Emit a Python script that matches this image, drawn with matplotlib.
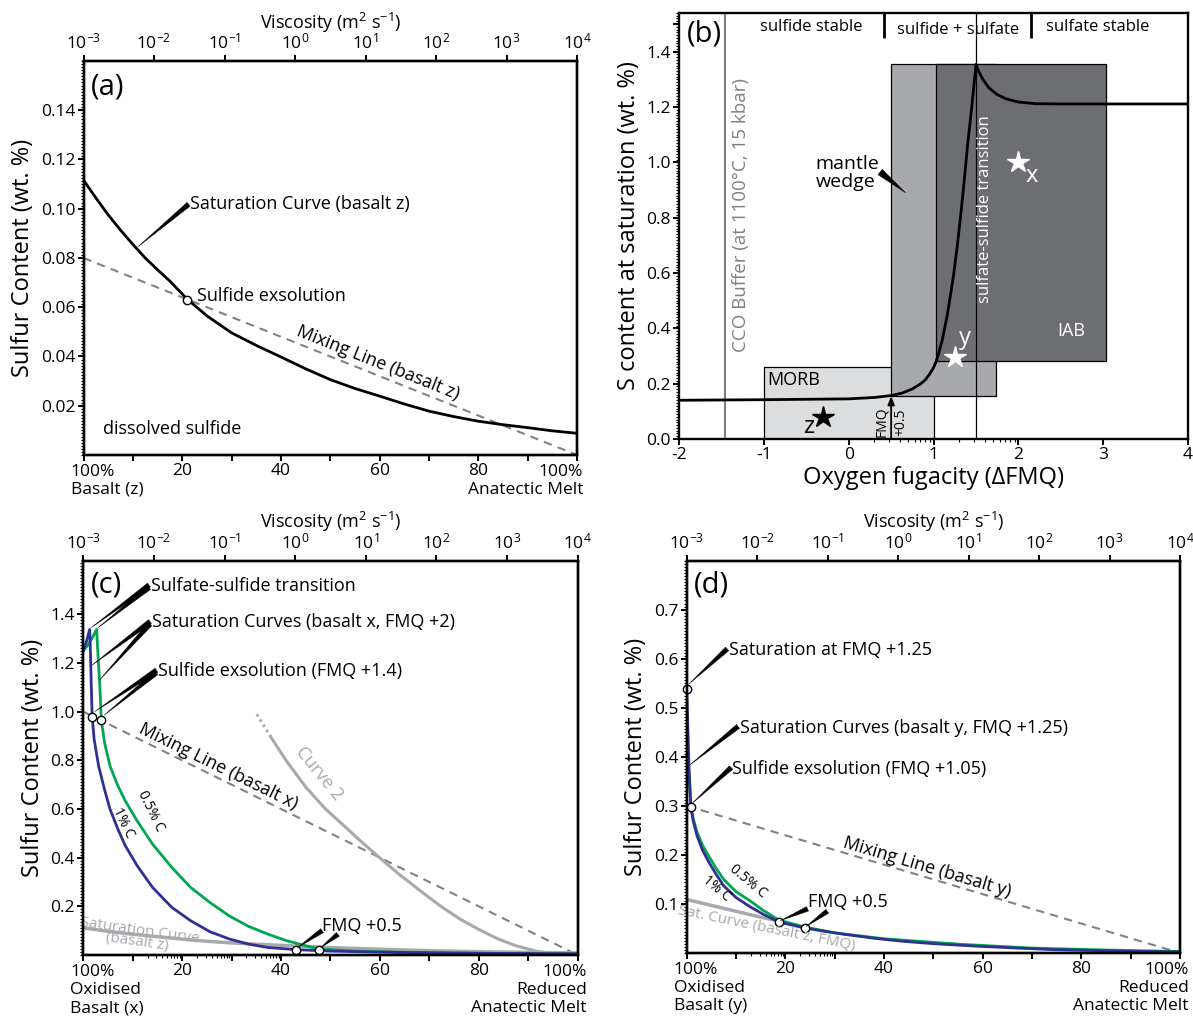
import numpy as np
import matplotlib
matplotlib.use('Agg')
import matplotlib.pyplot as plt
from matplotlib.ticker import MultipleLocator, FixedLocator, NullLocator

plt.rcParams['font.family'] = ['Open Sans', 'DejaVu Sans']
plt.rcParams['mathtext.default'] = 'regular'

# ---- shared axes data
mix_ticks = [0, 10, 20, 30, 40, 50, 60, 70, 80, 90, 100]
mix_labels = ['', '', '20', '', '40', '', '60', '', '80', '', '']
visc_ticks = [1e-3, 1e-2, 1e-1, 1e0, 1e1, 1e2, 1e3, 1e4]
visc_labels = ['$10^{-3}$', '$10^{-2}$', '$10^{-1}$', '$10^{0}$', '$10^{1}$', '$10^{2}$', '$10^{3}$', '$10^{4}$']

# ---- panel (a)
mix_a = [0, 2.5, 5, 7.5, 10, 12.5, 15, 17.5, 21, 25, 30, 35, 40, 45, 50, 55, 60, 65, 70, 75, 80,
         85, 90, 95, 100]
sat_a = [0.1116, 0.1044, 0.0975, 0.0913, 0.0855, 0.0800, 0.0752, 0.0706, 0.0633, 0.0565, 0.0496,
         0.0445, 0.0398, 0.0350, 0.0306, 0.0270, 0.0239, 0.0207, 0.0178, 0.0156, 0.0137, 0.0123,
         0.0111, 0.0098, 0.0088]
mixline_a = [0.08, 0.0]
exsol_a = (21, 0.063)

# ---- panel (b)
fo2 = [-2, -1, 0, 0.3, 0.5, 0.63, 0.75, 0.85, 0.9, 0.95, 1.0, 1.03, 1.06, 1.1, 1.16, 1.23, 1.28,
       1.32, 1.36, 1.4, 1.45, 1.5, 1.53, 1.58, 1.65, 1.75, 1.85, 2.0, 2.2, 2.5, 4]
s_sat = [0.14, 0.142, 0.145, 0.15, 0.157, 0.166, 0.181, 0.2, 0.213, 0.233, 0.258, 0.28, 0.31,
         0.355, 0.445, 0.58, 0.7, 0.81, 0.93, 1.06, 1.2, 1.354, 1.33, 1.30, 1.27, 1.245, 1.23,
         1.218, 1.212, 1.211, 1.211]
# boxes: (x0, x1, y0, y1)
morb_box = (-1.0, 1.0, 0.0, 0.26)
wedge_box = (0.5, 1.74, 0.155, 1.355)
iab_box = (1.03, 3.03, 0.282, 1.355)
cco_fo2 = -1.46
transition_fo2 = 1.5
star_pts = {'z': (-0.3, 0.079), 'y': (1.25, 0.296), 'x': (2.0, 1.0)}

# ---- panel (c)
blue_c_x = [0, 0.6, 1.3, 1.45, 1.6, 1.8, 2.2, 3.1, 4.3, 5.4, 7.0, 8.5, 10.9, 14.0, 17.9, 21.7,
            25.6, 29.5, 33.4, 37.3, 43, 50, 60, 70, 80, 90, 100]
blue_c_y = [1.25, 1.285, 1.338, 1.25, 1.12, 0.98, 0.886, 0.777, 0.68, 0.60, 0.517, 0.449, 0.367,
            0.278, 0.196, 0.141, 0.096, 0.066, 0.045, 0.031, 0.022, 0.016, 0.012, 0.009, 0.007,
            0.006, 0.005]
green_c_x = [0, 1.0, 2.0, 2.7, 2.9, 3.1, 3.3, 3.65, 4.3, 5.4, 7.0, 8.5, 10.9, 14.0, 17.9, 21.7,
             25.6, 29.5, 33.4, 37.3, 41.1, 45, 47.6, 55, 65, 80, 100]
green_c_y = [1.25, 1.275, 1.31, 1.338, 1.26, 1.19, 1.126, 0.966, 0.873, 0.777, 0.695, 0.633,
             0.551, 0.456, 0.36, 0.278, 0.216, 0.161, 0.118, 0.086, 0.059, 0.038, 0.025, 0.016,
             0.011, 0.007, 0.005]
mixline_c = [1.0, 0.0]
curve2_dot_x = [35.1, 37.9]
curve2_dot_y = [0.989, 0.897]
curve2_x = [37.9, 41, 45, 49, 52.8, 56, 59.8, 64, 68.3, 72, 76, 80, 83.9, 87.5, 91.6, 95.5]
curve2_y = [0.897, 0.80, 0.69, 0.60, 0.53, 0.47, 0.402, 0.33, 0.262, 0.205, 0.15, 0.105, 0.066,
            0.038, 0.016, 0.003]
exsol_c = [(1.8, 0.98), (3.65, 0.966), (43, 0.022), (47.6, 0.022)]

# ---- panel (d)
blue_d_x = [0, 0.2, 0.46, 0.85, 1.3, 2.1, 3.2, 4.5, 6, 7.5, 10, 12.9, 15.5, 18.7, 23.9, 28, 32, 38,
            43.6, 50, 59, 67, 74.3, 87, 100]
blue_d_y = [0.539, 0.47, 0.383, 0.297, 0.27, 0.239, 0.21, 0.185, 0.16, 0.137, 0.113, 0.094, 0.079,
            0.063, 0.051, 0.044, 0.038, 0.030, 0.024, 0.019, 0.0137, 0.010, 0.0068, 0.004, 0.002]
green_d_x = [0.5, 0.85, 1.3, 2.1, 3.2, 4.5, 6, 7.5, 10, 12.9, 15.5, 18.7, 23.9, 30, 40, 55, 70, 85, 100]
green_d_y = [0.36, 0.30, 0.275, 0.246, 0.22, 0.197, 0.172, 0.150, 0.125, 0.106, 0.087, 0.067, 0.053,
             0.041, 0.029, 0.018, 0.010, 0.006, 0.003]
satz_d_x = [0, 5, 10, 15, 18.7]
satz_d_y = [0.109, 0.097, 0.085, 0.073, 0.065]
mixline_d = [0.3, 0.0]
exsol_d = [(0, 0.539), (0.85, 0.297), (18.7, 0.063), (23.9, 0.051)]

BLUE = '#2e3192'
GREEN = '#00a651'
LGREY = '#a7a9ac'
DGREY = '#808285'
FS = 13

fig = plt.figure(figsize=(11.93, 10.19), dpi=100)


def style(ax):
    for s in ax.spines.values():
        s.set_linewidth(1.7)
    ax.tick_params(which='major', direction='out', length=4, width=1.4, labelsize=12.5, pad=2)
    ax.tick_params(which='minor', direction='out', length=2.5, width=0.8)


def wedge(ax, head, tail, w=0.35):
    ax.annotate('', xy=head, xytext=tail,
                arrowprops=dict(arrowstyle='wedge,tail_width=%g,shrink_factor=0.5' % w,
                                fc='k', ec='k', lw=0.3, shrinkA=0, shrinkB=0))


def angle(ax, p1, p2):
    a = ax.transData.transform(p1)
    b = ax.transData.transform(p2)
    return np.degrees(np.arctan2(b[1] - a[1], b[0] - a[0]))


def end_labels(ax, lines, x, dx, ha):
    for i, line in enumerate(lines):
        ax.annotate(line, xy=(x, 0), xycoords=('data', 'axes fraction'), xytext=(dx, -9 - 18 * i),
                    textcoords='offset pixels', ha=ha, va='top', fontsize=12.5)


def mix_axes(ax, ymax, yminor, yticks, ylabels, left_lab, right_lab, log_starts, rx):
    ax.set_xlim(0, 100)
    ax.set_ylim(0, ymax)
    ax.xaxis.set_major_locator(FixedLocator(mix_ticks))
    ax.set_xticklabels(mix_labels)
    minors = [k + 10 * np.log10(m) for k in log_starts for m in range(2, 10)]
    ax.xaxis.set_minor_locator(FixedLocator(minors))
    ax.set_yticks(yticks)
    ax.set_yticklabels(ylabels)
    ax.yaxis.set_minor_locator(MultipleLocator(yminor))
    style(ax)
    ax.set_ylabel('Sulfur Content (wt. %)', fontsize=17, labelpad=4)
    end_labels(ax, left_lab, 0, -13, 'left')
    end_labels(ax, right_lab, 100, rx, 'right')
    top = ax.twiny()
    top.set_xscale('log')
    top.set_xlim(1e-3, 1e4)
    top.set_xticks(visc_ticks)
    top.set_xticklabels(visc_labels)
    top.xaxis.set_minor_locator(NullLocator())
    style(top)
    top.set_xlabel('Viscosity (m$^2$ s$^{-1}$)', fontsize=13, labelpad=3)
    return top


# ================= (a)
ax = fig.add_axes([0.0700, 0.5535, 0.4137, 0.3867])
mix_axes(ax, 0.16, 0.00125, [0.02, 0.04, 0.06, 0.08, 0.10, 0.12, 0.14],
         ['0.02', '0.04', '0.06', '0.08', '0.10', '0.12', '0.14'],
         ['100%', 'Basalt (z)'], ['100%', 'Anatectic Melt'], [], 6)
ax.plot([0, 100], mixline_a, color=DGREY, lw=1.5, ls=(0, (4, 3)))
ax.plot(mix_a, sat_a, color='k', lw=2)
ax.plot(*exsol_a, 'o', ms=6, mfc='white', mec='k', mew=1)
ax.text(0.015, 0.97, '(a)', transform=ax.transAxes, fontsize=21, va='top')
ax.text(21.5, 0.102, 'Saturation Curve (basalt z)', fontsize=FS, va='center')
wedge(ax, (11, 0.0845), (21.3, 0.1018))
ax.text(23, 0.0645, 'Sulfide exsolution', fontsize=FS, va='center')
rot = angle(ax, (0, mixline_a[0]), (100, mixline_a[1]))
ax.text(59.6, 0.0375, 'Mixing Line (basalt z)', fontsize=FS, rotation=rot, ha='center', va='center',
        rotation_mode='anchor')
ax.text(4, 0.0105, 'dissolved sulfide', fontsize=FS, va='center')

# ================= (b)
bx = fig.add_axes([0.5692, 0.5692, 0.4267, 0.4181])
bx.set_xlim(-2, 4)
bx.set_ylim(0, 1.54)
bx.set_xticks([-2, -1, 0, 1, 2, 3, 4])
bx.set_xticklabels(['-2', '-1', '0', '1', '2', '3', '4'])
bx.xaxis.set_minor_locator(FixedLocator([k + np.log10(m) for k in (0, 1) for m in range(2, 10)]))
bx.set_yticks([0, 0.2, 0.4, 0.6, 0.8, 1.0, 1.2, 1.4, 1.5])
bx.set_yticklabels(['0.0', '0.2', '0.4', '0.6', '0.8', '1.0', '1.2', '1.4', ''])
bx.yaxis.set_minor_locator(MultipleLocator(0.01))
style(bx)
bx.set_ylabel('S content at saturation (wt. %)', fontsize=17, labelpad=4)
bx.set_xlabel('Oxygen fugacity (\u0394FMQ)', fontsize=17, labelpad=2)
for (x0, x1, y0, y1), col in [(morb_box, '#dcddde'), (wedge_box, '#a7a9ac'), (iab_box, '#6d6e71')]:
    bx.fill_between([x0, x1], y0, y1, facecolor=col, edgecolor='k', lw=0.9)
bx.axvline(cco_fo2, color='#808080', lw=1.5)
bx.axvline(transition_fo2, color='k', lw=0.9)
bx.vlines([0.414, 2.151], 1.451, 1.54, color='k', lw=2)
bx.plot(fo2, s_sat, color='k', lw=2)
bx.annotate('', xy=(0.5, 0.155), xytext=(0.5, 0.0),
            arrowprops=dict(arrowstyle='-|>,head_length=0.5,head_width=0.2', color='k', lw=1.3,
                            shrinkA=0, shrinkB=0))
bx.text(0.5, 0.062, 'FMQ\n+0.5', rotation=90, fontsize=10, ha='center', va='center', linespacing=1.3)
bx.plot(*star_pts['z'], marker='*', ms=16, color='k', ls='none')
bx.plot(*star_pts['y'], marker='*', ms=16, color='white', ls='none')
bx.plot(*star_pts['x'], marker='*', ms=16, color='white', ls='none')
bx.text(-0.47, 0.045, 'z', fontsize=17, ha='center', va='center')
bx.text(1.37, 0.365, 'y', fontsize=17, ha='center', va='center', color='white')
bx.text(2.16, 0.95, 'x', fontsize=17, ha='center', va='center', color='white')
bx.text(2.62, 0.39, 'IAB', fontsize=13, ha='center', va='center', color='white')
bx.text(-0.96, 0.215, 'MORB', fontsize=13, ha='left', va='center')
bx.text(-0.39, 0.96, 'mantle\nwedge', fontsize=14, ha='left', va='center', linespacing=1.0)
wedge(bx, (0.67, 0.89), (0.37, 0.965), w=0.5)
bx.text(-1.27, 0.81, 'CCO Buffer (at 1100\u00b0C, 15 kbar)', rotation=90, fontsize=13.5,
        color='#808080', ha='center', va='center')
bx.text(1.61, 0.83, 'sulfate-sulfide transition', rotation=90, fontsize=12, color='white',
        ha='center', va='center')
bx.text(-0.44, 1.49, 'sulfide stable', fontsize=12, ha='center', va='center')
bx.text(1.29, 1.48, 'sulfide + sulfate', fontsize=12, ha='center', va='center')
bx.text(2.94, 1.49, 'sulfate stable', fontsize=12, ha='center', va='center')
bx.text(0.015, 0.985, '(b)', transform=bx.transAxes, fontsize=21, va='top')

# ================= (c)
cx = fig.add_axes([0.0698, 0.0628, 0.4144, 0.3869])
mix_axes(cx, 1.62, 0.0125, [0.2, 0.4, 0.6, 0.8, 1.0, 1.2, 1.4],
         ['0.2', '0.4', '0.6', '0.8', '1.0', '1.2', '1.4'],
         ['100%', 'Oxidised', 'Basalt (x)'], ['100%', 'Reduced', 'Anatectic Melt'], [10, 20, 30], 9)
cx.plot([0, 100], mixline_c, color=DGREY, lw=1.5, ls=(0, (4, 3)))
cx.plot(curve2_dot_x, curve2_dot_y, color=LGREY, lw=2.2, ls=(0, (0.8, 1.2)))
cx.plot(curve2_x, curve2_y, color=LGREY, lw=2.2)
cx.plot(mix_a, sat_a, color=LGREY, lw=2.5)
cx.plot(green_c_x, green_c_y, color=GREEN, lw=2)
cx.plot(blue_c_x, blue_c_y, color=BLUE, lw=2)
for p in exsol_c:
    cx.plot(*p, 'o', ms=6, mfc='white', mec='k', mew=1)
cx.text(0.015, 0.975, '(c)', transform=cx.transAxes, fontsize=21, va='top')
cx.text(13.8, 1.515, 'Sulfate-sulfide transition', fontsize=FS, va='center')
wedge(cx, (1.6, 1.345), (13.3, 1.52))
wedge(cx, (3.0, 1.345), (13.3, 1.51))
cx.text(14, 1.37, 'Saturation Curves (basalt x, FMQ +2)', fontsize=FS, va='center')
wedge(cx, (1.7, 1.19), (13.5, 1.37))
wedge(cx, (3.3, 1.13), (13.5, 1.36))
cx.text(15.2, 1.165, 'Sulfide exsolution (FMQ +1.4)', fontsize=FS, va='center')
wedge(cx, (2.3, 1.0), (14.8, 1.17))
wedge(cx, (4.2, 0.985), (14.8, 1.16))
rot = angle(cx, (0, mixline_c[0]), (100, mixline_c[1]))
cx.text(27.3, 0.775, 'Mixing Line (basalt x)', fontsize=FS, rotation=rot, ha='center', va='center',
        rotation_mode='anchor')
rot2 = angle(cx, (curve2_x[0], curve2_y[0]), (curve2_x[4], curve2_y[4]))
cx.text(47.8, 0.745, 'Curve 2', fontsize=FS, rotation=rot2, ha='center', va='center', color=LGREY,
        rotation_mode='anchor')
cx.text(13.6, 0.59, '0.5% C', fontsize=10, rotation=-64, ha='center', va='center',
        rotation_mode='anchor')
cx.text(8.0, 0.545, '1% C', fontsize=10, rotation=-64, ha='center', va='center',
        rotation_mode='anchor')
cx.text(11.4, 0.098, 'Saturation Curve', fontsize=11, rotation=-8, ha='center', va='center',
        color=LGREY, rotation_mode='anchor')
cx.text(10.8, 0.052, '(basalt z)', fontsize=11, rotation=-8, ha='center', va='center',
        color=LGREY, rotation_mode='anchor')
cx.text(48.3, 0.12, 'FMQ +0.5', fontsize=FS, va='center')
wedge(cx, (43.3, 0.03), (48.3, 0.1))
wedge(cx, (48.0, 0.03), (51.5, 0.085))

# ================= (d)
dx = fig.add_axes([0.5756, 0.0648, 0.4135, 0.3850])
mix_axes(dx, 0.8, 0.00625, [0.1, 0.2, 0.3, 0.4, 0.5, 0.6, 0.7],
         ['0.1', '0.2', '0.3', '0.4', '0.5', '0.6', '0.7'],
         ['100%', 'Oxidised', 'Basalt (y)'], ['100%', 'Reduced', 'Anatectic Melt'], [10, 20], 9)
dx.plot([0, 100], mixline_d, color=DGREY, lw=1.5, ls=(0, (4, 3)))
dx.plot(satz_d_x, satz_d_y, color=LGREY, lw=2.5)
dx.plot(green_d_x, green_d_y, color=GREEN, lw=2)
dx.plot(blue_d_x, blue_d_y, color=BLUE, lw=2)
for p in exsol_d:
    dx.plot(*p, 'o', ms=6, mfc='white', mec='k', mew=1, clip_on=False)
dx.text(0.015, 0.975, '(d)', transform=dx.transAxes, fontsize=21, va='top')
dx.text(8.6, 0.617, 'Saturation at FMQ +1.25', fontsize=FS, va='center')
wedge(dx, (0.4, 0.548), (8.2, 0.62))
dx.text(10.8, 0.459, 'Saturation Curves (basalt y, FMQ +1.25)', fontsize=FS, va='center')
wedge(dx, (0.6, 0.383), (10.4, 0.462))
dx.text(9.2, 0.375, 'Sulfide exsolution (FMQ +1.05)', fontsize=FS, va='center')
wedge(dx, (1.1, 0.305), (9.0, 0.378))
rot = angle(dx, (0, mixline_d[0]), (100, mixline_d[1]))
dx.text(48.7, 0.175, 'Mixing Line (basalt y)', fontsize=FS, rotation=rot, ha='center', va='center',
        rotation_mode='anchor')
dx.text(12.5, 0.146, '0.5% C', fontsize=10, rotation=-40, ha='center', va='center',
        rotation_mode='anchor')
dx.text(6.0, 0.131, '1% C', fontsize=10, rotation=-40, ha='center', va='center',
        rotation_mode='anchor')
dx.text(16.3, 0.049, 'Sat. Curve (basalt z, FMQ)', fontsize=11, rotation=-11.5, ha='center',
        va='center', color=LGREY, rotation_mode='anchor')
dx.text(24.6, 0.103, 'FMQ +0.5', fontsize=FS, va='center')
wedge(dx, (19.0, 0.066), (24.5, 0.09))
wedge(dx, (24.2, 0.054), (28.5, 0.085))

fig.savefig('out.png', dpi=100)
